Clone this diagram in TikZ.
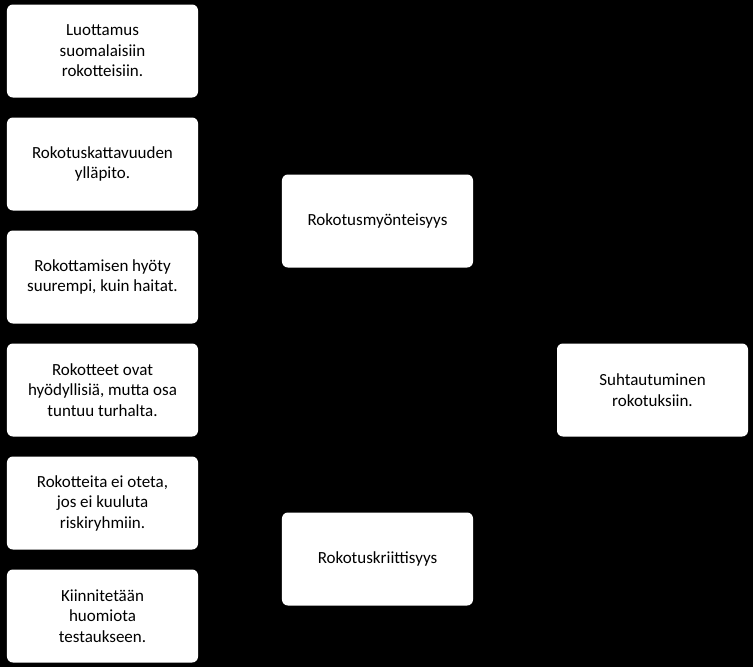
\documentclass[tikz,border=0pt]{standalone}
\usepackage{fontspec}
\setmainfont{Carlito}
\begin{document}
\begin{tikzpicture}[
  x=0.03cm,y=-0.03cm,
  box/.style={fill=white,rounded corners=5pt,minimum width=5.73cm,minimum height=2.79cm,
    align=center,font=\fontsize{14.5}{17.5}\selectfont,inner sep=2pt}]
  \fill[black] (0,0) rectangle (753,667);
% left column
  \node[box] (luottamus) at (102.5,51) {Luottamus\\suomalaisiin\\rokotteisiin.};
  \node[box] (kattavuus) at (102.5,164) {Rokotuskattavuuden\\ylläpito.};
  \node[box] (hyoty) at (102.5,277) {Rokottamisen hyöty\\suurempi, kuin haitat.};
  \node[box] (turha) at (102.5,390) {Rokotteet ovat\\hyödyllisiä, mutta osa\\tuntuu turhalta.};
  \node[box] (riski) at (102.5,503) {Rokotteita ei oteta,\\jos ei kuuluta\\riskiryhmiin.};
  \node[box] (testaus) at (102.5,616) {Kiinnitetään\\huomiota\\testaukseen.};
% middle and right
  \node[box] (myonteisyys) at (377.5,221) {Rokotusmyönteisyys};
  \node[box] (kriittisyys) at (377.5,559) {Rokotuskriittisyys};
  \node[box] (suhtautuminen) at (652.5,390) {Suhtautuminen\\rokotuksiin.};
\end{tikzpicture}
\end{document}
